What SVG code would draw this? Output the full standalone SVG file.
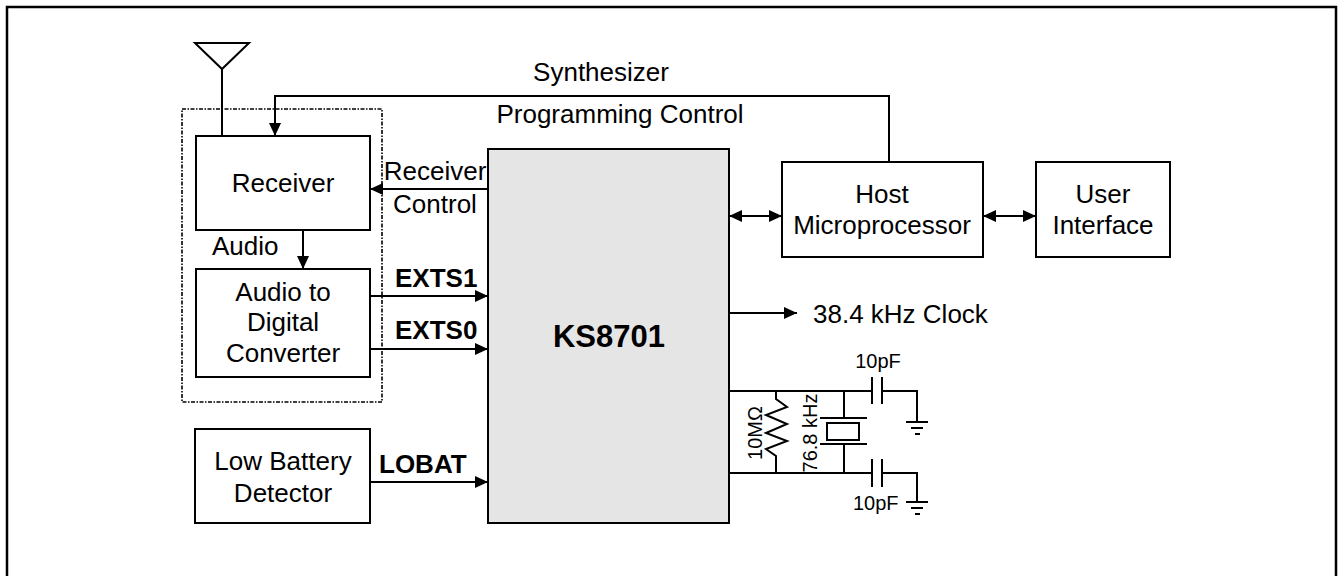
<svg xmlns="http://www.w3.org/2000/svg" width="1338" height="576" viewBox="0 0 1338 576">
<defs>
<style>
.box{fill:#fff;stroke:#000;stroke-width:2}
.chip{fill:#e5e5e5;stroke:#000;stroke-width:2}
.ln{fill:none;stroke:#000;stroke-width:2}
.t{font-family:"Liberation Sans",Arial,sans-serif;font-size:26px;fill:#000}
.c{text-anchor:middle}
.b{font-weight:bold}
.s{font-size:20px}
</style>
<marker id="ah" viewBox="0 0 13 12" refX="13" refY="6" markerWidth="13" markerHeight="12" markerUnits="userSpaceOnUse" orient="auto-start-reverse">
<path d="M0,0 L13,6 L0,12 Z" fill="#000"/>
</marker>
</defs>
<rect x="0" y="0" width="1338" height="576" fill="#fff"/>
<path d="M7,600 V7 H1336 V600" fill="none" stroke="#000" stroke-width="2.5"/>

<g id="rf-module">
<rect x="182" y="109" width="200" height="293" fill="none" stroke="#000" stroke-width="1.6" stroke-dasharray="4,1.5,1.5,1.5"/>
</g>

<g id="antenna">
<path class="ln" d="M195,43 H249 L222,69 Z"/>
</g>

<g id="receiver">
<rect class="box" x="196" y="136" width="174" height="94"/>
<text class="t c" x="283" y="192">Receiver</text>
</g>

<g id="adc">
<rect class="box" x="196" y="269" width="174" height="108"/>
<text class="t c" x="283" y="301">Audio to</text>
<text class="t c" x="283" y="331">Digital</text>
<text class="t c" x="283" y="362">Converter</text>
</g>

<g id="lowbat">
<rect class="box" x="195" y="429" width="175" height="94"/>
<text class="t c" x="283" y="470">Low Battery</text>
<text class="t c" x="283" y="502">Detector</text>
</g>

<g id="ks8701">
<rect class="chip" x="488" y="149" width="241" height="374"/>
<text class="t c b" x="609" y="347" style="font-size:31px">KS8701</text>
</g>

<g id="host">
<rect class="box" x="782" y="162" width="201" height="95"/>
<text class="t c" x="882" y="203">Host</text>
<text class="t c" x="882" y="234">Microprocessor</text>
</g>

<g id="user-interface">
<rect class="box" x="1036" y="162" width="134" height="95"/>
<text class="t c" x="1103" y="203">User</text>
<text class="t c" x="1103" y="234">Interface</text>
</g>

<g id="crystal-circuit">
<path class="ln" d="M729,391 H872 M729,473 H872"/>
<path class="ln" d="M872,377 V404 M882,377 V404 M882,391 H917 V422"/>
<path class="ln" d="M906,422 H928 M911,428 H923 M915,434 H920"/>
<path class="ln" d="M872,459 V487 M882,459 V487 M882,473 H917 V502"/>
<path class="ln" d="M906,502 H928 M911,508 H923 M915,514 H920"/>
<path class="ln" d="M776,391 V399 L787,407 L766,415 L787,424 L766,433 L787,441 L766,449 L776,456 V473"/>
<path class="ln" d="M844,391 V418 M820,418 H867 M820,444 H867 M844,444 V473"/>
<rect class="ln" x="827" y="423" width="32" height="17"/>
<text class="t c s" x="878" y="368">10pF</text>
<text class="t s" x="853" y="510">10pF</text>
<text class="t c s" transform="translate(762,433) rotate(-90)">10MΩ</text>
<text class="t c s" transform="translate(817,433) rotate(-90)">76.8 kHz</text>
</g>

<g id="connectors">
<path class="ln" d="M222,69 V136"/>
<path class="ln" d="M889,162 V96 H275 V136" marker-end="url(#ah)"/>
<path class="ln" d="M488,189 H370" marker-end="url(#ah)"/>
<path class="ln" d="M303,230 V269" marker-end="url(#ah)"/>
<path class="ln" d="M370,296 H488" marker-end="url(#ah)"/>
<path class="ln" d="M370,349 H488" marker-end="url(#ah)"/>
<path class="ln" d="M370,482 H488" marker-end="url(#ah)"/>
<path class="ln" d="M729,216 H782" marker-start="url(#ah)" marker-end="url(#ah)"/>
<path class="ln" d="M983,216 H1036" marker-start="url(#ah)" marker-end="url(#ah)"/>
<path class="ln" d="M729,313 H797" marker-end="url(#ah)"/>
</g>

<g id="labels">
<text class="t c" x="601" y="81">Synthesizer</text>
<text class="t c" x="620" y="123">Programming Control</text>
<text class="t c" x="435" y="180">Receiver</text>
<text class="t c" x="435" y="213">Control</text>
<text class="t" x="212" y="255">Audio</text>
<text class="t b" x="395" y="287">EXTS1</text>
<text class="t b" x="395" y="339">EXTS0</text>
<text class="t b" x="379" y="473">LOBAT</text>
<text class="t" x="813" y="323">38.4 kHz Clock</text>
</g>
</svg>
